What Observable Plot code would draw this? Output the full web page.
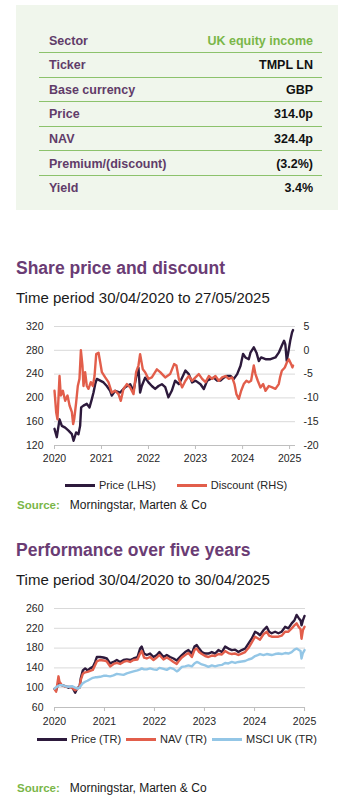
<!DOCTYPE html>
<html><head><meta charset="utf-8">
<script src="https://cdn.jsdelivr.net/npm/d3@7"></script>
<script src="https://cdn.jsdelivr.net/npm/@observablehq/plot@0.6"></script>
<style>
body{margin:0;background:#fff;font-family:"Liberation Sans",Arial,sans-serif;}
#page{position:relative;width:352px;height:797px;overflow:hidden;background:#fff;}
.abs{position:absolute;white-space:nowrap;}
.title{font-weight:bold;font-size:17.5px;line-height:20px;color:#6a3c74;left:16px;}
.sub{font-size:15px;line-height:18px;color:#1a1a1a;left:16px;}
.legend{display:flex;align-items:center;font-size:11px;line-height:14px;color:#262626;height:14px;}
.legend .item{display:flex;align-items:center;}
.legend .sw{width:30px;height:3px;margin-right:4px;}
.source{font-size:12px;line-height:14px;color:#1a1a1a;left:17px;}
.source b{color:#7ab648;font-size:11.5px;margin-right:10px;}
</style></head><body><div id="page"></div>
<script>
// ---------- Fact table ----------
const tableLabels = ["Sector","Ticker","Base currency","Price","NAV","Premium/(discount)","Yield"];
const tableValues = ["UK equity income","TMPL LN","GBP","314.0p","324.4p","(3.2%)","3.4%"];

// ---------- Chart 1: share price (LHS, pence) and discount (RHS, %) ----------
const priceDates = ["2020-04-30","2020-05-18","2020-06-08","2020-06-26","2020-07-22","2020-08-17","2020-09-12","2020-09-25","2020-10-15","2020-11-02","2020-11-15","2020-11-23","2020-12-11","2021-01-06","2021-01-27","2021-02-14","2021-02-27","2021-03-12","2021-03-25","2021-04-20","2021-05-16","2021-06-10","2021-07-06","2021-07-19","2021-08-14","2021-09-22","2021-10-31","2021-12-09","2022-01-04","2022-01-29","2022-02-11","2022-02-24","2022-03-09","2022-04-04","2022-04-30","2022-05-26","2022-06-21","2022-07-17","2022-08-12","2022-09-07","2022-10-02","2022-10-28","2022-11-23","2022-12-22","2023-01-16","2023-02-11","2023-03-09","2023-04-04","2023-04-30","2023-06-08","2023-07-04","2023-07-30","2023-08-25","2023-09-19","2023-10-15","2023-11-10","2023-12-06","2024-01-01","2024-01-27","2024-02-22","2024-03-19","2024-04-14","2024-05-04","2024-05-22","2024-06-17","2024-06-30","2024-07-26","2024-08-16","2024-09-03","2024-09-21","2024-10-25","2024-12-03","2025-01-10","2025-02-05","2025-03-01","2025-03-18","2025-03-28","2025-04-08","2025-04-22","2025-05-05","2025-05-19","2025-05-27"];
const priceValues = [148,134,164,153,150,145,139,128,142,139,153,184,187,190,184,198,209,223,232,229,226,220,212,204,212,209,218,223,212,240,251,209,220,234,226,220,215,220,223,218,201,212,229,223,234,246,240,226,229,223,215,229,232,234,229,229,234,237,237,232,240,254,274,268,265,276,285,276,262,268,265,265,268,276,288,296,290,262,279,296,310,314];

const discountDates = ["2020-04-30","2020-05-13","2020-05-23","2020-06-08","2020-06-18","2020-07-04","2020-07-22","2020-08-09","2020-08-25","2020-09-12","2020-09-22","2020-09-30","2020-10-15","2020-10-28","2020-11-10","2020-11-21","2020-12-03","2020-12-11","2020-12-24","2021-01-06","2021-01-19","2021-02-06","2021-02-22","2021-03-07","2021-03-20","2021-04-07","2021-04-20","2021-05-03","2021-05-29","2021-06-23","2021-07-19","2021-08-14","2021-09-09","2021-09-27","2021-10-18","2021-11-13","2021-12-09","2022-01-04","2022-01-24","2022-02-11","2022-02-24","2022-03-17","2022-04-04","2022-04-30","2022-05-26","2022-07-04","2022-07-30","2022-09-07","2022-10-15","2022-11-15","2022-12-03","2022-12-22","2023-01-16","2023-02-11","2023-03-09","2023-04-04","2023-04-30","2023-05-26","2023-06-21","2023-07-17","2023-08-12","2023-09-06","2023-10-02","2023-10-28","2023-11-23","2023-12-19","2024-01-14","2024-02-09","2024-02-27","2024-03-13","2024-04-01","2024-04-19","2024-05-09","2024-05-30","2024-06-17","2024-07-05","2024-07-26","2024-08-08","2024-08-26","2024-09-16","2024-10-07","2024-10-25","2024-11-20","2024-12-16","2025-01-10","2025-02-05","2025-02-15","2025-03-01","2025-03-24","2025-04-08","2025-04-24","2025-05-12","2025-05-22","2025-05-27"];
const discountValues = [-8.5,-13,-14.5,-5.4,-9.5,-8.5,-10.6,-9.5,-11.6,-13,-15.5,-14.5,-11,-7.5,-6,0,-3.2,-7.5,-4.6,-7.5,-8.1,-6.7,-7.5,-5.4,-0.8,-0.5,-2.5,-4.6,-5.7,-6.7,-8.9,-8.5,-9.2,-10.6,-8.1,-7.1,-7.8,-9.2,-4.6,-3.2,-0.8,-4,-4.6,-6,-5.7,-4,-4.6,-5.7,-5,-2.9,-3.2,-6,-7.8,-6.4,-5.4,-6.4,-5.7,-5,-6,-6.7,-5.4,-6,-5.4,-6.4,-5.7,-5.4,-6,-5.7,-7.1,-9.2,-10.2,-8.5,-7.1,-6.4,-6.7,-6.4,-3.2,-5,-6.4,-7.8,-7.1,-8.5,-7.5,-7.8,-8.1,-7.1,-5.7,-4.3,-3.6,-2.6,-1.9,-2.9,-3.6,-3.2];

const priceTicks = [120,160,200,240,280,320];
const discountTicks = [-20,-15,-10,-5,0,5];
const yearTicks = [2020,2021,2022,2023,2024,2025];

// ---------- Chart 2: five-year total return, rebased to 100 ----------
const perfDates = ["2020-04-30","2020-05-12","2020-05-22","2020-05-29","2020-06-05","2020-06-23","2020-07-17","2020-08-10","2020-09-04","2020-09-28","2020-10-15","2020-10-29","2020-11-08","2020-11-23","2020-12-10","2020-12-27","2021-01-15","2021-02-04","2021-02-21","2021-03-05","2021-03-29","2021-04-23","2021-05-17","2021-06-10","2021-07-05","2021-07-29","2021-08-22","2021-09-16","2021-10-10","2021-11-03","2021-11-28","2021-12-27","2022-01-15","2022-01-27","2022-02-13","2022-03-05","2022-03-29","2022-04-23","2022-05-17","2022-06-05","2022-07-05","2022-07-29","2022-08-22","2022-09-16","2022-10-10","2022-10-22","2022-11-16","2022-12-10","2023-01-03","2023-01-28","2023-02-16","2023-03-05","2023-03-22","2023-04-11","2023-05-05","2023-05-29","2023-06-23","2023-07-17","2023-08-10","2023-09-04","2023-09-28","2023-10-22","2023-11-16","2023-12-10","2024-01-03","2024-01-27","2024-02-21","2024-03-16","2024-04-09","2024-05-04","2024-05-23","2024-06-09","2024-07-04","2024-07-28","2024-08-14","2024-09-02","2024-09-27","2024-10-21","2024-11-14","2024-12-09","2025-01-02","2025-01-26","2025-02-15","2025-03-03","2025-03-20","2025-04-01","2025-04-08","2025-04-18","2025-04-30"];
const perfPrice = [98,95,103,106,110,105,103,100,102,90,100,100,119,135,139,135,139,142,152,162,162,161,159,149,152,156,152,156,157,156,159,162,179,183,169,166,169,162,166,172,162,166,162,159,155,159,166,172,176,169,183,186,179,172,169,169,172,169,176,172,183,179,176,177,172,176,179,189,199,213,210,206,216,223,213,210,213,210,213,223,220,230,236,247,240,236,226,236,245];
const perfNav = [97,92,110,123,112,105,102,102,100,95,98,100,116,128,131,132,134,136,146,153,156,155,153,143,148,150,148,152,154,152,156,157,169,174,161,159,162,156,161,166,157,161,157,152,148,153,161,166,170,162,176,179,172,168,164,162,165,164,168,167,174,170,168,169,166,169,172,180,191,203,200,197,208,213,205,203,203,203,205,213,213,220,226,230,222,218,199,216,223];
const perfMsci = [98,101,103,104,105,105,103,102,103,100,98,100,104,109,112,114,117,120,121,121,122,124,124,123,125,128,127,126,129,131,133,135,137,139,137,137,139,137,136,140,138,136,140,138,133,135,142,143,145,143,149,152,150,147,145,142,145,143,145,146,150,149,152,150,152,153,154,157,159,164,166,168,166,168,167,166,168,169,168,170,169,172,177,179,176,174,159,170,176];
const perfTicks = [60,100,140,180,220,260];

// ---------- styling ----------
const C = {price:"#2d1a3c", red:"#e25e4b", blue:"#93c6e6", grid:"#d9d9d9", axis:"#bfbfbf", text:"#262626"};
const FONT = "'Liberation Sans', Arial, sans-serif";
const SW = 2.4;

const page = document.getElementById("page");
function el(tag, cls, css, html){const e=document.createElement(tag); if(cls) e.className=cls; if(css) e.style.cssText=css; if(html!=null) e.innerHTML=html; page.appendChild(e); return e;}

// table
el("div","abs","left:16px;top:5px;width:322px;height:205px;background:#f0f6ec;");
tableLabels.forEach((lab,i)=>{
  const cy = 40.5 + i*24.6;
  el("div","abs",`left:49px;top:${cy-9}px;height:18px;line-height:18px;font-weight:bold;font-size:12.5px;color:#613c69;`, lab);
  el("div","abs",`right:${352-313}px;top:${cy-9}px;height:18px;line-height:18px;font-weight:bold;font-size:12.5px;color:${i===0?"#7ab648":"#111"};text-align:right;`, tableValues[i]);
  if(i<tableLabels.length-1) el("div","abs",`left:39px;width:283px;top:${Math.round(cy+11.5)}px;height:1px;background:#8cc26c;`);
});

// chart 1
el("div","abs title","top:258px;","Share price and discount");
el("div","abs sub","top:289px;","Time period 30/04/2020 to 27/05/2025");

const yr = y => new Date(Date.UTC(y,3,30));
const priceData = priceDates.map((d,i)=>({date:new Date(d), v:priceValues[i]}));
const discData = discountDates.map((d,i)=>({date:new Date(d), v:discountValues[i]}));
// secondary axis: discount -20..5 mapped onto price 120..320
const d2p = d => 120 + (d + 20) * 8;
const p2d = p => (p - 120) / 8 - 20;

const chart1 = Plot.plot({
  width:352, height:160, marginLeft:54, marginRight:57, marginTop:16, marginBottom:25,
  style:{fontFamily:FONT, fontSize:"10.5px", color:C.text, background:"transparent", overflow:"visible"},
  x:{type:"utc", domain:[yr(2020), new Date("2025-06-15")]},
  y:{domain:[120,320]},
  marks:[
    Plot.gridY(priceTicks.slice(1), {stroke:C.grid, strokeOpacity:1}),
    Plot.ruleY([120], {stroke:C.axis}),
    Plot.axisX({ticks:yearTicks.map(yr), tickFormat:d=>String(d.getUTCFullYear()), tickSize:4, tickPadding:5, stroke:C.axis, fill:C.text, label:null}),
    Plot.axisY({ticks:priceTicks, tickSize:0, tickPadding:11, fill:C.text, label:null}),
    Plot.axisY({anchor:"right", ticks:discountTicks.map(d2p), tickFormat:p=>String(p2d(p)), tickSize:0, tickPadding:8, fill:C.text, label:null}),
    Plot.lineY(priceData, {x:"date", y:"v", stroke:C.price, strokeWidth:SW}),
    Plot.lineY(discData, {x:"date", y:d=>d2p(d.v), stroke:C.red, strokeWidth:SW})
  ]
});
const w1 = el("div","abs","left:0;top:310px;"); w1.appendChild(chart1);

function legend(items, left, top, gap){
  const L = el("div","abs legend",`left:${left}px;top:${top}px;gap:${gap}px;`);
  items.forEach(([c,t])=>{const it=document.createElement("div"); it.className="item"; it.innerHTML=`<span class="sw" style="background:${c}"></span><span>${t}</span>`; L.appendChild(it);});
}
legend([[C.price,"Price (LHS)"],[C.red,"Discount (RHS)"]], 65, 478, 21);
el("div","abs source","top:498px;","<b>Source:</b>Morningstar, Marten &amp; Co");

// chart 2
el("div","abs title","top:540px;","Performance over five years");
el("div","abs sub","top:571px;","Time period 30/04/2020 to 30/04/2025");

const perf = perfDates.map((d,i)=>({date:new Date(d), price:perfPrice[i], nav:perfNav[i], msci:perfMsci[i]}));
const chart2 = Plot.plot({
  width:352, height:135, marginLeft:54, marginRight:47, marginTop:14, marginBottom:22,
  style:{fontFamily:FONT, fontSize:"10.5px", color:C.text, background:"transparent", overflow:"visible"},
  x:{type:"utc", domain:[yr(2020), new Date("2025-05-07")]},
  y:{domain:[60,260]},
  marks:[
    Plot.gridY(perfTicks.slice(1), {stroke:C.grid, strokeOpacity:1}),
    Plot.ruleY([60], {stroke:C.axis}),
    Plot.axisX({ticks:yearTicks.map(yr), tickFormat:d=>String(d.getUTCFullYear()), tickSize:4, tickPadding:6, stroke:C.axis, fill:C.text, label:null}),
    Plot.axisY({ticks:perfTicks, tickSize:0, tickPadding:11, fill:C.text, label:null}),
    Plot.lineY(perf, {x:"date", y:"price", stroke:C.price, strokeWidth:SW}),
    Plot.lineY(perf, {x:"date", y:"nav", stroke:C.red, strokeWidth:SW}),
    Plot.lineY(perf, {x:"date", y:"msci", stroke:C.blue, strokeWidth:SW})
  ]
});
const w2 = el("div","abs","left:0;top:594px;"); w2.appendChild(chart2);
legend([[C.price,"Price (TR)"],[C.red,"NAV (TR)"],[C.blue,"MSCI UK (TR)"]], 37, 732, 5);
el("div","abs source","top:781px;","<b>Source:</b>Morningstar, Marten &amp; Co");
</script></body></html>
